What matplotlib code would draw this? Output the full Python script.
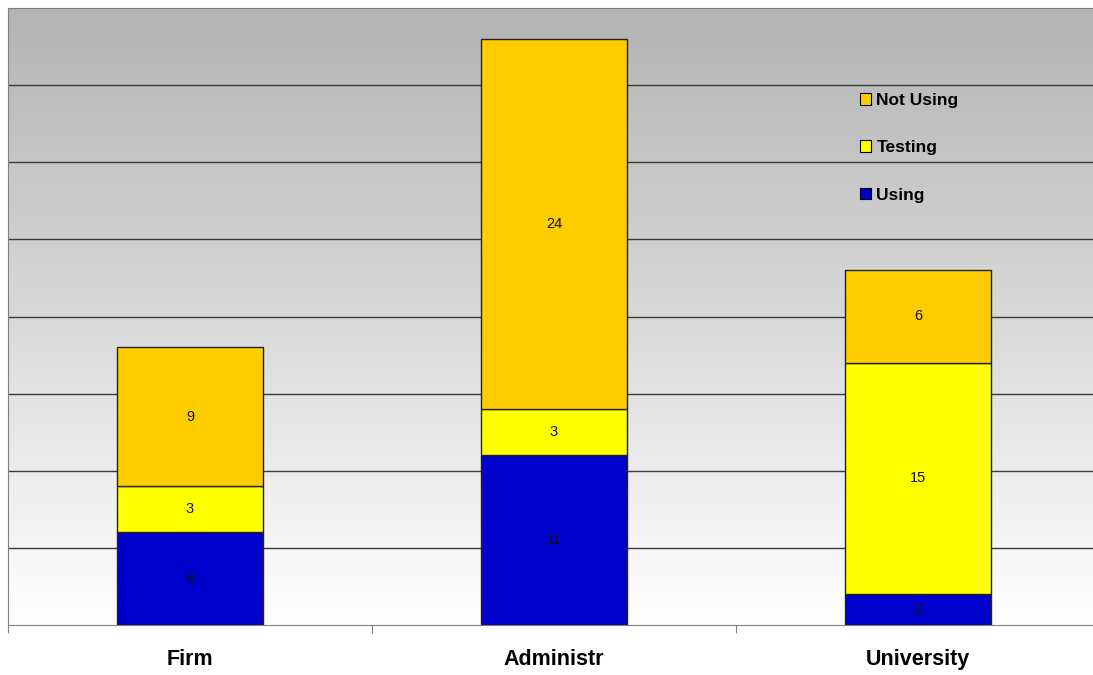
import numpy as np
import matplotlib
matplotlib.use("Agg")
import matplotlib.pyplot as plt
from matplotlib.patches import Patch
from matplotlib.colors import LinearSegmentedColormap

categories = ["Firm", "Administr", "University"]
using = [6, 11, 2]
testing = [3, 3, 15]
not_using = [9, 24, 6]

plt.rcParams['font.family'] = ['Liberation Sans', 'DejaVu Sans']

fig = plt.figure(figsize=(10.93, 6.75), dpi=100)
AX_W = 1092
ax = fig.add_axes([8/1093, 50/675, AX_W/1093, 617/675])

# gradient background
grad = np.linspace(0, 1, 256).reshape(-1, 1)
cmap = LinearSegmentedColormap.from_list("g", ["#ffffff", "#b3b3b3"])
ax.imshow(grad, extent=[0, 1, 0, 1], transform=ax.transAxes, cmap=cmap,
          aspect='auto', origin='lower', zorder=0)

x = np.arange(len(categories))
w = 0.4
colors = {"Using": "#0000CC", "Testing": "#FFFF00", "Not Using": "#FFCC00"}
bottom = np.zeros(len(categories))
for name, vals in [("Using", using), ("Testing", testing), ("Not Using", not_using)]:
    ax.bar(x, vals, w, bottom=bottom, color=colors[name],
           edgecolor="#222222", linewidth=1, zorder=3)
    for xi, b, v in zip(x, bottom, vals):
        ax.text(xi, b + v / 2, str(v), ha='center', va='center',
                fontsize=10.5, color='#111111', zorder=4)
    bottom = bottom + np.array(vals)

ax.set_xlim(-0.5, 2.5)
ax.set_ylim(0, 40)
for yv in range(5, 40, 5):
    ax.axhline(yv, color='#3a3a3a', lw=1, zorder=1)

ax.set_yticks([])
ax.set_xticks([-0.5, 0.5, 1.5, 2.5])
ax.set_xticklabels([])
ax.tick_params(axis='x', direction='out', length=6, color='#808080')
for xi, c in zip(x, categories):
    ax.text(xi, -24/617, c, transform=ax.get_xaxis_transform(), ha='center',
            va='top', fontsize=15.5, fontweight='bold')

for s in ['left', 'top', 'right', 'bottom']:
    ax.spines[s].set_color('#808080')

handles = [Patch(facecolor=colors[n], edgecolor='black', linewidth=0.8, label=n)
           for n in ["Not Using", "Testing", "Using"]]
leg = ax.legend(handles=handles, loc='upper left',
                bbox_to_anchor=(852/AX_W, 1 - 85/617),
                frameon=False, prop={'weight': 'bold', 'size': 12.5},
                handlelength=0.65, handleheight=0.65, handletextpad=0.3,
                labelspacing=1.86, borderpad=0, borderaxespad=0)

fig.savefig("out.png", dpi=100)
